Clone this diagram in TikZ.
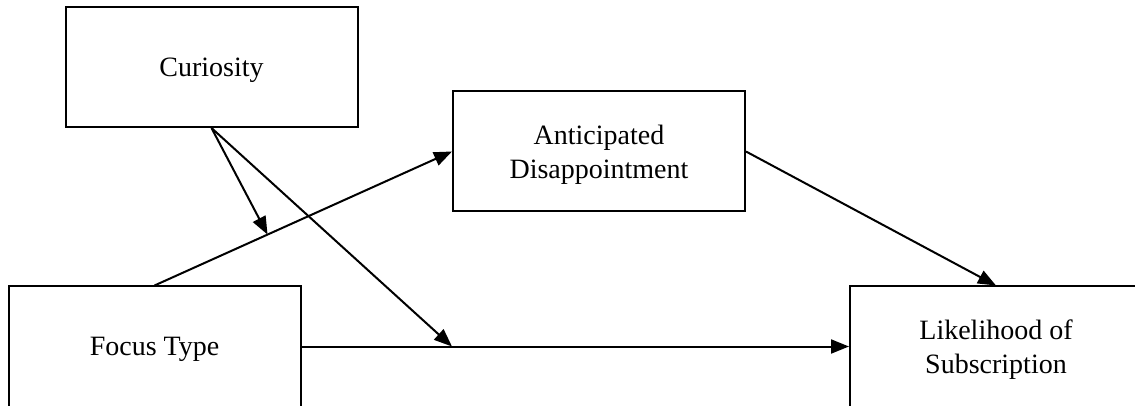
\documentclass[tikz,border=0pt]{standalone}
\usepackage{fontspec}
\setmainfont{Liberation Serif}
\usetikzlibrary{arrows.meta,calc}

\begin{document}
\begin{tikzpicture}[x=0.5pt,y=-0.5pt,line width=1pt,
    >={Triangle[length=9pt,width=7pt]},
    box/.style={draw,minimum width=146pt,minimum height=60pt,align=center,
      text depth=0pt,font=\fontsize{14}{17}\selectfont}]
      \clip (0,0) rectangle (1135,406);

      \node[box] (cur) at (211.5,67) {Curiosity};
      \node[box] (ant) at (599,151.5) {Anticipated\\Disappointment};

      \node[box] (foc) at (154.5,346.5) {Focus Type};
      \node[box] (lik) at (996,346.5) {Likelihood of\\Subscription};

      \coordinate (m1) at ($(foc.north)!0.38!(ant.west)$);
      \coordinate (m2) at (ant.west |- foc.east);

      \draw[->] (foc.north) -- (ant.west);
      \draw[->] (foc.east) -- (lik.west);
      \draw[->] (ant.east) -- (lik.north);
      \draw[->] (cur.south) -- (m1);
      \draw[->] (cur.south) -- (m2);
    \end{tikzpicture}
\end{document}
